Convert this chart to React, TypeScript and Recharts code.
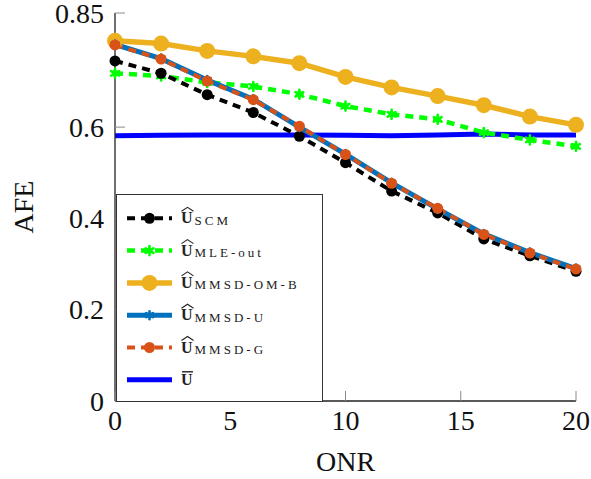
import { LineChart, Line, XAxis, YAxis, Legend } from "recharts";

const onr = [0, 2, 4, 6, 8, 10, 12, 14, 16, 18, 20];
const afeScm = [0.745, 0.718, 0.671, 0.632, 0.58, 0.522, 0.46, 0.412, 0.355, 0.318, 0.284];
const afeMleOut = [0.718, 0.712, 0.698, 0.689, 0.672, 0.646, 0.628, 0.617, 0.588, 0.572, 0.558];
const afeOmB = [0.789, 0.783, 0.767, 0.755, 0.74, 0.71, 0.687, 0.668, 0.648, 0.623, 0.605];
const afeMmsdU = [0.781, 0.75, 0.703, 0.661, 0.6, 0.541, 0.478, 0.421, 0.366, 0.325, 0.29];
const afeMmsdG = [0.78, 0.749, 0.701, 0.66, 0.602, 0.54, 0.477, 0.422, 0.365, 0.324, 0.289];
const afeUbar = [0.581, 0.582, 0.583, 0.583, 0.583, 0.582, 0.581, 0.583, 0.585, 0.583, 0.583];

const xTicks = [0, 5, 10, 15, 20];
const yTicks = [0, 0.2, 0.4, 0.6, 0.85];

const data = onr.map((x, i) => ({
  onr: x,
  scm: afeScm[i],
  mle: afeMleOut[i],
  omb: afeOmB[i],
  mmsdU: afeMmsdU[i],
  mmsdG: afeMmsdG[i],
  ubar: afeUbar[i],
}));

const W = 591;
const H = 479;
const LEFT = 115;
const RIGHT = 576;
const TOP = 13;
const BOTTOM = 401;
const FONT = "Liberation Serif";
const serif = { fontFamily: FONT };
const TICK_LEN = 10;
const TICK_COLOR = "#8a8a8a";

type Mark = "circle" | "asterisk" | "none";

// legend order; drawing order is set separately below
const series = [
  { key: "scm", sub: "SCM", color: "#000000", width: 4, dash: "8 6", mark: "circle" as Mark, r: 5.5, hat: true },
  { key: "mle", sub: "MLE-out", color: "#00ff00", width: 4.5, dash: "8 6", mark: "asterisk" as Mark, r: 4.5, hat: true },
  { key: "omb", sub: "MMSD-OM-B", color: "#edb120", width: 5.5, dash: undefined, mark: "circle" as Mark, r: 8, hat: true },
  { key: "mmsdU", sub: "MMSD-U", color: "#0072bd", width: 5, dash: undefined, mark: "asterisk" as Mark, r: 4, hat: true },
  { key: "mmsdG", sub: "MMSD-G", color: "#d95319", width: 4, dash: "8 6", mark: "circle" as Mark, r: 5.5, hat: true },
  { key: "ubar", sub: "", color: "#0000ff", width: 5, dash: undefined, mark: "none" as Mark, r: 0, hat: false },
];

const drawOrder = ["ubar", "omb", "mle", "scm", "mmsdU", "mmsdG"];

function Marker({ cx, cy, mark, r, color }: { cx: number; cy: number; mark: Mark; r: number; color: string }) {
  if (mark === "circle") return <circle cx={cx} cy={cy} r={r} fill={color} />;
  if (mark === "asterisk") {
    const spokes = [90, 30, -30].map((a) => {
      const dx = r * Math.cos((a * Math.PI) / 180);
      const dy = r * Math.sin((a * Math.PI) / 180);
      return `M${cx - dx},${cy - dy}L${cx + dx},${cy + dy}`;
    });
    return (
      <g>
        <path d={spokes.join("")} stroke={color} strokeWidth={2.6} strokeLinecap="round" />
        <circle cx={cx} cy={cy} r={r * 0.7} fill={color} />
      </g>
    );
  }
  return null;
}

const BottomTick = ({ x, payload }: any) => (
  <g>
    <line x1={x} x2={x} y1={BOTTOM} y2={BOTTOM - TICK_LEN} stroke={TICK_COLOR} strokeWidth={1} />
    <text x={x} y={BOTTOM + 29} textAnchor="middle" fontSize={28} fontFamily={FONT} style={serif} fill="#111">
      {payload.value}
    </text>
  </g>
);

const TopTick = ({ x }: any) => (
  <line x1={x} x2={x} y1={TOP} y2={TOP + TICK_LEN} stroke={TICK_COLOR} strokeWidth={1} />
);

const LeftTick = ({ y, payload }: any) => (
  <g>
    <line x1={LEFT} x2={LEFT + TICK_LEN} y1={y} y2={y} stroke={TICK_COLOR} strokeWidth={1} />
    <text x={104} y={y + 9.5} textAnchor="end" fontSize={28} fontFamily={FONT} style={serif} fill="#111">
      {payload.value}
    </text>
  </g>
);

const RightTick = ({ y }: any) => (
  <line x1={RIGHT} x2={RIGHT - TICK_LEN} y1={y} y2={y} stroke={TICK_COLOR} strokeWidth={1} />
);

const LEG_W = 207;
const LEG_H = 208;

function LegendBox() {
  return (
    <svg width={LEG_W} height={LEG_H} style={{ display: "block" }}>
      <rect x={0.5} y={0.5} width={LEG_W - 1} height={LEG_H - 1} fill="#fff" stroke="#333" strokeWidth={1} />
      {series.map((s, i) => {
        const cy = 24.3 + i * 32.3;
        return (
          <g key={s.key}>
            <line x1={11} x2={56} y1={cy} y2={cy} stroke={s.color} strokeWidth={s.width} strokeDasharray={s.dash} />
            <Marker cx={33.5} cy={cy} mark={s.mark} r={s.r} color={s.color} />
            {s.hat ? (
              <path d={`M65.5,${cy - 7}L71.5,${cy - 11}L77.5,${cy - 7}`} fill="none" stroke="#222" strokeWidth={1.1} />
            ) : (
              <line x1={66} x2={77} y1={cy - 8} y2={cy - 8} stroke="#222" strokeWidth={1.4} />
            )}
            <text x={65} y={cy + 5} fontFamily={FONT} style={serif} fill="#222">
              <tspan fontWeight="bold" fontSize={16}>U</tspan>
              {s.sub && (
                <tspan fontSize={13} dx={2} dy={1.5} letterSpacing={3}>
                  {s.sub}
                </tspan>
              )}
            </text>
          </g>
        );
      })}
    </svg>
  );
}

export default function App() {
  const byKey = Object.fromEntries(series.map((s) => [s.key, s]));
  return (
    <div style={{ width: W, height: H, position: "relative", background: "#fff", fontFamily: FONT }}>
      <style>{`body{margin:0}`}</style>
      <LineChart
        width={W}
        height={H}
        data={data}
        style={serif}
        margin={{ top: TOP, right: W - RIGHT, bottom: H - BOTTOM - 30, left: LEFT - 60 }}
      >
        <XAxis
          dataKey="onr"
          type="number"
          domain={[0, 20]}
          ticks={xTicks}
          height={30}
          axisLine={{ stroke: "#222", strokeWidth: 1.3 }}
          tickLine={false}
          tick={<BottomTick />}
          interval={0}
        />
        <XAxis
          xAxisId="top"
          orientation="top"
          dataKey="onr"
          type="number"
          domain={[0, 20]}
          ticks={xTicks}
          height={0}
          axisLine={{ stroke: "#222", strokeWidth: 1.3 }}
          tickLine={false}
          tick={<TopTick />}
          interval={0}
        />
        <YAxis
          type="number"
          domain={[0, 0.85]}
          ticks={yTicks}
          width={60}
          axisLine={{ stroke: "#222", strokeWidth: 1.3 }}
          tickLine={false}
          tick={<LeftTick />}
          interval={0}
        />
        <YAxis
          yAxisId="right"
          orientation="right"
          type="number"
          domain={[0, 0.85]}
          ticks={yTicks}
          width={0}
          axisLine={{ stroke: "#111", strokeWidth: 1.3 }}
          tickLine={false}
          tick={<RightTick />}
          interval={0}
        />
        {drawOrder.map((k) => {
          const s = byKey[k];
          return (
            <Line
              key={k}
              dataKey={k}
              name={s.sub || "U"}
              type="linear"
              stroke={s.color}
              strokeWidth={s.width}
              strokeDasharray={s.dash}
              isAnimationActive={false}
              activeDot={false}
              dot={
                s.mark === "none"
                  ? false
                  : (p: any) => (
                      <Marker key={`${k}-${p.index}`} cx={p.cx} cy={p.cy} mark={s.mark} r={s.r} color={s.color} />
                    )
              }
            />
          );
        })}
        <Legend
          layout="horizontal"
          verticalAlign="middle"
          align="center"
          content={() => <LegendBox />}
          wrapperStyle={{ position: "absolute", left: LEFT + 1, top: BOTTOM - LEG_H + 1, width: LEG_W, height: LEG_H }}
        />
        <text x={(LEFT + RIGHT) / 2} y={471} textAnchor="middle" fontSize={28} fontFamily={FONT} style={serif} fill="#111">
          ONR
        </text>
        <text
          x={33}
          y={(TOP + BOTTOM) / 2}
          transform={`rotate(-90, 33, ${(TOP + BOTTOM) / 2})`}
          textAnchor="middle"
          fontSize={28}
          fontFamily={FONT}
          style={serif}
          fill="#111"
        >
          AFE
        </text>
      </LineChart>
    </div>
  );
}
